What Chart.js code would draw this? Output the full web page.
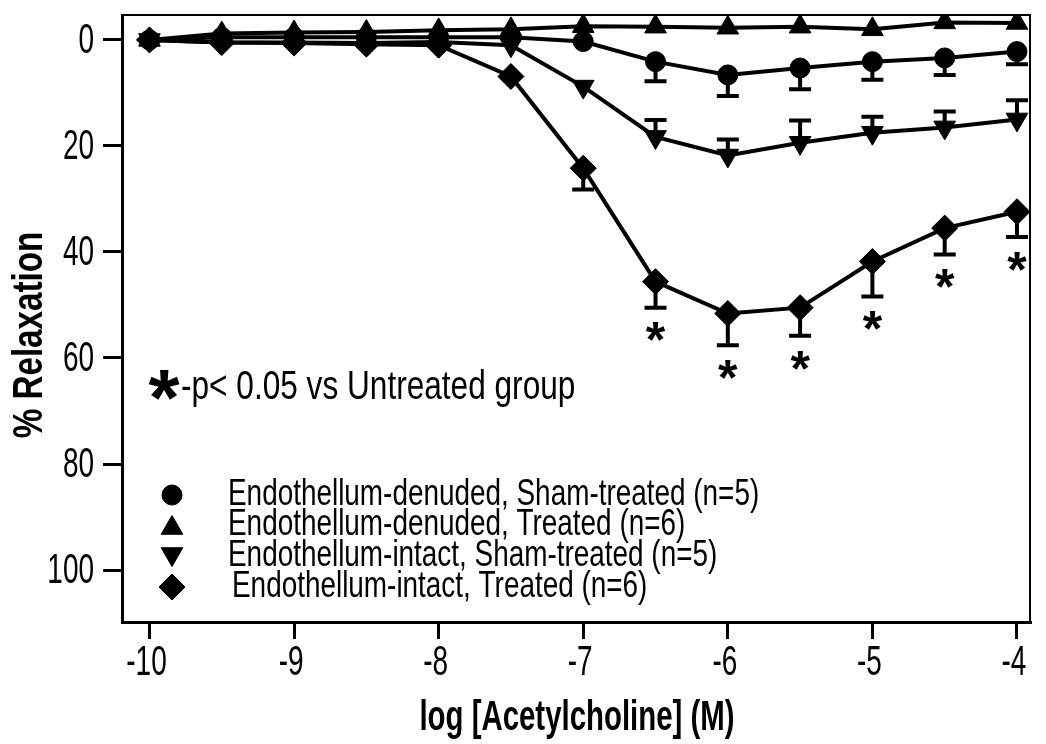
<!DOCTYPE html>
<html>
<head>
<meta charset="utf-8">
<script src="https://cdn.jsdelivr.net/npm/chart.js@4.4.1/dist/chart.umd.min.js"></script>
<style>
  html, body { margin: 0; background: #fff; }
  #wrap { width: 1046px; height: 744px; }
</style>
</head>
<body>
<div id="wrap"><canvas id="chart"></canvas></div>
<script>
// log molar acetylcholine concentrations
const doses = [-10, -9.5, -9, -8.5, -8, -7.5, -7, -6.5, -6, -5.5, -5, -4.5, -4];
const xTicks = [-10, -9, -8, -7, -6, -5, -4];
const yTicks = [0, 20, 40, 60, 80, 100];

// % relaxation, mean and SEM per dose
const denudedSham = [0, -0.5, -0.5, -0.5, -0.5, -0.5, 0.3, 4.1, 6.6, 5.3, 4.1, 3.4, 2.2];
const denudedShamSem = [0, 0, 0, 0, 0, 0, 0, 3.7, 4, 4, 3.4, 3.2, 2.4];
const denudedTreated = [0, -1.2, -1.4, -1.5, -1.8, -2, -2.6, -2.5, -2.3, -2.5, -2, -3.3, -3.2];
const denudedTreatedSem = [0, 0, 0, 0, 0, 0, 0, 0, 0, 0, 0, 0, 0];
const intactSham = [0, 0.5, 0.5, 0.6, 0.4, 1, 8.8, 18.3, 21.8, 19.4, 17.5, 16.5, 15];
const intactShamSem = [0, 0, 0, 0, 0, 0, 0, 3.2, 3, 4.2, 3, 3, 3.6];
const intactTreated = [0, 0.5, 0.6, 0.8, 1, 6.9, 24.2, 45.6, 51.6, 50.5, 41.8, 35.5, 32.4];
const intactTreatedSem = [0, 0, 0, 0, 0, 0, 4, 4.9, 6, 5.3, 6.6, 5, 4.8];
// p < 0.05 vs untreated, intact/treated group
const significant = [false, false, false, false, false, false, false, true, true, true, true, true, true];

const seriesLabels = [
  'Endothellum-denuded, Sham-treated (n=5)',
  'Endothellum-denuded, Treated (n=6)',
  'Endothellum-intact, Sham-treated (n=5)',
  'Endothellum-intact, Treated (n=6)',
];
const noteText = '-p< 0.05 vs Untreated group';
const xTitle = 'log [Acetylcholine] (M)';
const yTitle = '% Relaxation';

const FONT = '"Liberation Sans", Arial, sans-serif';

function toPoints(values) {
  return doses.map((d, i) => ({ x: d, y: values[i] }));
}

// Helvetica Condensed look: regular sans squeezed horizontally
function squeezed(ctx, text, x, y, size, opt = {}) {
  ctx.save();
  ctx.translate(x, y);
  if (opt.rotate) ctx.rotate(opt.rotate);
  ctx.scale(opt.sx || 0.65, 1);
  ctx.font = `${opt.bold ? 'bold ' : ''}${size}px ${FONT}`;
  ctx.fillStyle = '#000';
  ctx.textAlign = opt.align || 'left';
  ctx.textBaseline = 'middle';
  ctx.fillText(text, 0, 0);
  ctx.restore();
}

function series(label, values, sem, semDir, style, radius, rotation) {
  return {
    label,
    data: toPoints(values),
    sem,
    semDir,
    showLine: true,
    borderColor: '#000',
    backgroundColor: '#000',
    borderWidth: 4,
    pointStyle: style,
    pointRadius: radius,
    pointRotation: rotation || 0,
    pointBorderWidth: 1,
    pointBackgroundColor: '#000',
    pointBorderColor: '#000',
    tension: 0,
  };
}

const datasets = [
  series(seriesLabels[0], denudedSham, denudedShamSem, 1, 'circle', 10),
  series(seriesLabels[1], denudedTreated, denudedTreatedSem, -1, 'triangle', 12.5),
  series(seriesLabels[2], intactSham, intactShamSem, -1, 'triangle', 12.5, 180),
  series(seriesLabels[3], intactTreated, intactTreatedSem, 1, 'rectRot', 13),
];

// one-sided SEM bars with caps, drawn under the markers
const errorBars = {
  id: 'errorBars',
  beforeDatasetsDraw(chart) {
    const { ctx, scales: { x, y } } = chart;
    ctx.save();
    ctx.strokeStyle = '#000';
    ctx.lineWidth = 4;
    chart.data.datasets.forEach(ds => {
      ds.data.forEach((p, i) => {
        const e = ds.sem[i];
        if (!e) return;
        const px = x.getPixelForValue(p.x);
        const y0 = y.getPixelForValue(p.y);
        const y1 = y.getPixelForValue(p.y + ds.semDir * e);
        ctx.beginPath();
        ctx.moveTo(px, y0);
        ctx.lineTo(px, y1);
        ctx.moveTo(px - 11, y1);
        ctx.lineTo(px + 11, y1);
        ctx.stroke();
      });
    });
    ctx.restore();
  },
  afterDatasetsDraw(chart) {
    // significance stars under the intact/treated error bars
    const { ctx, scales: { x, y } } = chart;
    const ds = chart.data.datasets[3];
    ctx.save();
    ds.data.forEach((p, i) => {
      if (!significant[i]) return;
      const px = x.getPixelForValue(p.x);
      const py = y.getPixelForValue(p.y + ds.sem[i]) + 26;
      ctx.font = `bold 50px ${FONT}`;
      ctx.fillStyle = '#000';
      ctx.textAlign = 'center';
      ctx.textBaseline = 'middle';
      ctx.fillText('*', px, py + 10);
    });
    ctx.restore();
  },
};

// frame, tick labels, axis titles and the in-plot key
const decorations = {
  id: 'decorations',
  afterDraw(chart) {
    const { ctx, chartArea: a, scales: { x, y } } = chart;
    ctx.save();
    ctx.strokeStyle = '#000';
    ctx.lineWidth = 2;
    ctx.beginPath();
    ctx.moveTo(a.left, a.top);
    ctx.lineTo(a.right, a.top);
    ctx.lineTo(a.right, a.bottom);
    ctx.stroke();
    ctx.restore();

    y.ticks.forEach(t => {
      squeezed(ctx, String(t.value), 94, y.getPixelForValue(t.value) + 1, 43, { align: 'right', sx: 0.65 });
    });
    x.ticks.forEach(t => {
      squeezed(ctx, String(t.value), x.getPixelForValue(t.value) - 3, 663, 43, { align: 'center', sx: 0.65 });
    });
    squeezed(ctx, xTitle, 577, 718, 42, { align: 'center', bold: true, sx: 0.70 });
    squeezed(ctx, yTitle, 30, 335, 42, { align: 'center', bold: true, sx: 0.79, rotate: -Math.PI / 2 });

    // key
    ctx.save();
    ctx.font = `bold 80px ${FONT}`;
    ctx.textAlign = 'center';
    ctx.textBaseline = 'middle';
    ctx.fillStyle = '#000';
    ctx.fillText('*', 164, 403);
    ctx.restore();
    squeezed(ctx, noteText, 181, 388, 40, { sx: 0.79 });

    const rowY = [495, 525, 556, 587];
    chart.data.datasets.forEach((ds, i) => {
      ctx.save();
      ctx.fillStyle = '#000';
      ctx.strokeStyle = '#000';
      ctx.lineWidth = 1;
      Chart.helpers.drawPoint(ctx, {
        pointStyle: ds.pointStyle,
        radius: ds.pointRadius,
        rotation: ds.pointRotation,
        borderWidth: 1,
      }, 172, rowY[i] + (ds.pointStyle === 'triangle' ? (ds.pointRotation ? -2 : 3) : 0));
      ctx.restore();
      squeezed(ctx, ds.label, i === 3 ? 232 : 228, rowY[i], 36, { sx: 0.775 });
    });
  },
};

new Chart(document.getElementById('chart'), {
  type: 'scatter',
  data: { datasets },
  plugins: [errorBars, decorations],
  options: {
    responsive: true,
    maintainAspectRatio: false,
    animation: false,
    layout: { padding: { top: 15, right: 16, left: 0, bottom: 0 } },
    plugins: { legend: { display: false }, tooltip: { enabled: false } },
    scales: {
      x: {
        type: 'linear',
        min: -10.19,
        max: -3.91,
        afterBuildTicks: s => { s.ticks = xTicks.map(v => ({ value: v })); },
        afterFit: s => { s.height = 122; },
        ticks: { display: false },
        grid: { drawOnChartArea: false, drawTicks: true, tickLength: 17, lineWidth: 3, color: '#000' },
        border: { display: true, width: 3, color: '#000' },
      },
      y: {
        type: 'linear',
        reverse: true,
        min: -4.7,
        max: 109.8,
        afterBuildTicks: s => { s.ticks = yTicks.map(v => ({ value: v })); },
        afterFit: s => { s.width = 122; },
        ticks: { display: false },
        grid: { drawOnChartArea: false, drawTicks: true, tickLength: 19, lineWidth: 3, color: '#000' },
        border: { display: true, width: 3, color: '#000' },
      },
    },
  },
});
</script>
</body>
</html>
